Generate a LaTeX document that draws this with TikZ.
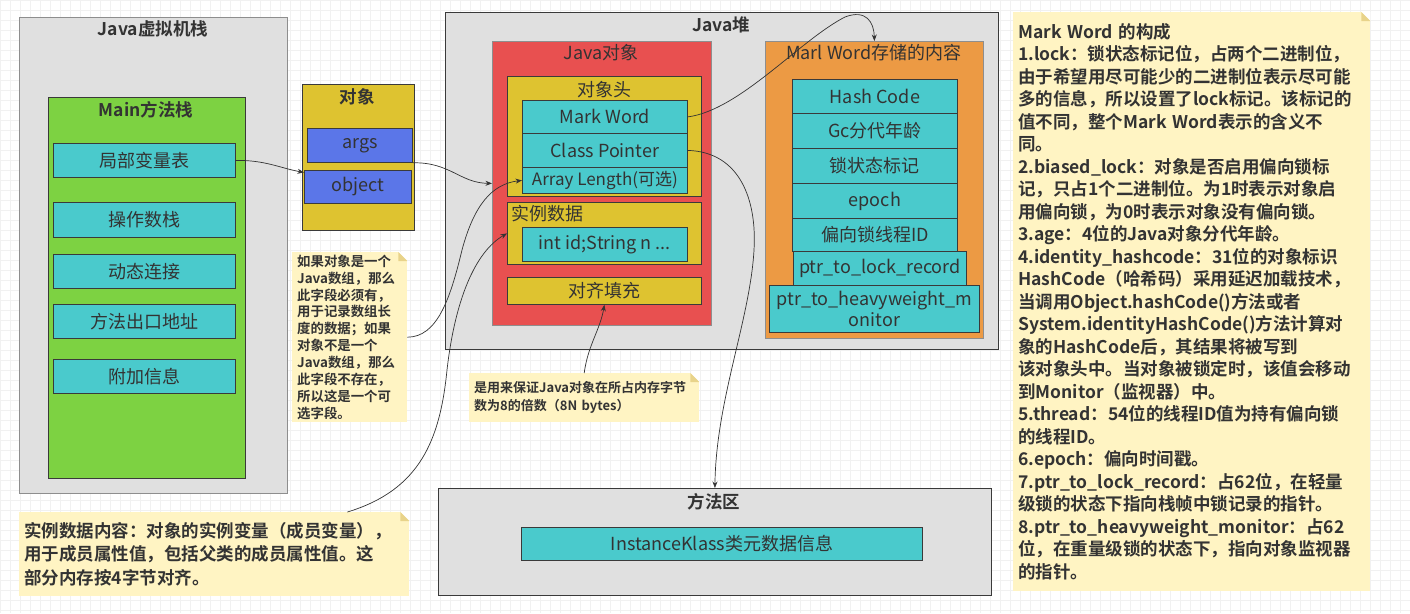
\documentclass[tikz,border=0pt]{standalone}
\usepackage{fontspec}
\setmainfont{Noto Sans CJK SC}[BoldFont={Noto Sans CJK SC Bold}]
\usetikzlibrary{arrows.meta}
\definecolor{ink}{HTML}{333333}
\definecolor{edge}{HTML}{3A3A3A}
\definecolor{edgelight}{HTML}{8E8E8E}
\definecolor{gridc}{HTML}{F1F1F1}
\definecolor{areagray}{HTML}{E0E0E0}
\definecolor{stackgreen}{HTML}{7DD242}
\definecolor{slotcyan}{HTML}{4ACACC}
\definecolor{objyellow}{HTML}{DEC330}
\definecolor{refblue}{HTML}{5B76E8}
\definecolor{objred}{HTML}{E85050}
\definecolor{markorange}{HTML}{EC9A44}
\definecolor{notefill}{HTML}{FFF4C3}
\definecolor{notefold}{HTML}{E8D38A}

\begin{document}
\begin{tikzpicture}[x=1pt, y=-1pt,
  sz/.style 2 args={minimum width=#1pt, minimum height=#2pt},
  box/.style={draw=edge, line width=0.8pt, anchor=north west, inner sep=0pt,
    text=ink, font=\fontsize{18}{21}\selectfont},
  area/.style={box, fill=areagray},
  slot/.style={box, fill=slotcyan},
  head/.style={text=ink, inner sep=0pt, font=\fontsize{17.5}{20}\selectfont\bfseries},
  plaintitle/.style={text=ink, inner sep=0pt, font=\fontsize{18}{21}\selectfont},
  note/.style={fill=notefill, anchor=north west, inner xsep=5pt, inner ysep=0pt,
    text=ink, align=left},
  conn/.style={draw=ink, line width=0.7pt, -{Stealth[length=6.5pt, width=5pt]}}]
  \useasboundingbox (0,0) rectangle (1410,613);
  \draw[gridc, line width=0.5pt, step=10pt] (0,0) grid (1410,613);

  \node[area, draw=edgelight, sz={268}{476}] (jvms) at (19,17) {};
  \node[head] (jvmst) at (153,29) {Java虚拟机栈};
  \node[box, fill=stackgreen, sz={197}{381}] (mainst) at (48,97) {};
  \node[head] (mainstt) at (146,110) {Main方法栈};
  \node[slot, sz={182}{34}] (lvt) at (53,143) {局部变量表};
  \node[slot, sz={182}{35}] (opst) at (53,202) {操作数栈};
  \node[slot, sz={182}{34}] (dyn) at (53,254) {动态连接};
  \node[slot, sz={182}{34}] (ret) at (53,304) {方法出口地址};
  \node[slot, sz={182}{34}] (extra) at (53,359) {附加信息};

  \node[box, fill=objyellow, sz={112}{146}] (objbox) at (302,84) {};
  \node[head] (objboxt) at (357,97) {对象};
  \node[box, fill=refblue, sz={105}{34}] (args) at (307,128) {args};
  \node[box, fill=refblue, sz={107}{33}] (obj) at (304,170) {object};

  \node[area, sz={553}{337}] (heap) at (445,12) {};
  \node[head] (heapt) at (721,25) {Java堆};
  \node[box, draw=edgelight, fill=objred, sz={219}{284}] (jobj) at (492,41) {};
  \node[plaintitle] (jobjt) at (601,53) {Java对象};
  \node[box, fill=objyellow, sz={194}{120}] (hdr) at (507,76) {};
  \node[plaintitle] (hdrt) at (604,90) {对象头};
  \node[slot, sz={165}{33}] (mw) at (522,100) {Mark Word};
  \node[slot, sz={165}{34}] (cp) at (522,133) {Class Pointer};
  \node[slot, sz={165}{26}, font=\fontsize{17}{20}\selectfont] (al) at (522,167) {Array Length(可选)};
  \node[box, fill=objyellow, sz={194}{62}] (inst) at (507,202) {};
  \node[plaintitle, anchor=west] (instt) at (511,214) {实例数据};
  \node[slot, sz={165}{34}] (ival) at (522,227) {int id;String n ...};
  \node[box, fill=objyellow, sz={194}{27}] (pad) at (507,277) {对齐填充};

  \node[box, draw=edgelight, fill=markorange, sz={218}{297}] (marl) at (765,41) {};
  \node[plaintitle] (marlt) at (874,53) {Marl Word存储的内容};
  \node[slot, sz={165}{34}] (hc) at (792,79) {Hash Code};
  \node[slot, sz={165}{35}] (gc) at (792,113) {Gc分代年龄};
  \node[slot, sz={165}{35}] (lk) at (792,148) {锁状态标记};
  \node[slot, sz={165}{35}] (ep) at (792,183) {epoch};
  \node[slot, sz={165}{33}] (bt) at (792,218) {偏向锁线程ID};
  \node[slot, sz={173}{34}] (plr) at (793,251) {ptr\_to\_lock\_record};
  \node[slot, sz={210}{47}, align=center, font=\fontsize{18}{21}\selectfont] (phm) at (769,285)
    {ptr\_to\_heavyweight\_m\\onitor};

  \node[area, sz={553}{107}] (ma) at (438,488) {};
  \node[head] (mat) at (714,502) {方法区};
  \node[slot, sz={401}{33}] (ik) at (521,527) {InstanceKlass类元数据信息};

  \node[note, sz={115}{170}, text width=105pt, font=\fontsize{13.4}{16.9}\selectfont\bfseries] (n1) at (292,252)
    {如果对象是一个\\Java数组，那么\\此字段必须有，\\用于记录数组长\\度的数据；如果\\对象不是一个\\Java数组，那么\\此字段不存在，\\所以这是一个可\\选字段。};
  \node[note, sz={230}{49}, text width=220pt, font=\fontsize{13}{18}\selectfont\bfseries] (n2) at (469,373)
    {是用来保证Java对象在所占内存字节\\数为8的倍数（8N bytes）};
  \node[note, sz={390}{84}, text width=380pt, font=\fontsize{17.5}{23.4}\selectfont\bfseries] (n3) at (19,512)
    {实例数据内容：对象的实例变量（成员变量），\\用于成员属性值，包括父类的成员属性值。这\\部分内存按4字节对齐。};
  \node[note, sz={357}{579}, text width=347pt, font=\fontsize{17.5}{22.5}\selectfont\bfseries] (n4) at (1013,12)
    {Mark Word 的构成\\
     1.lock：锁状态标记位，占两个二进制位，\\
     由于希望用尽可能少的二进制位表示尽可能\\
     多的信息，所以设置了lock标记。该标记的\\
     值不同，整个Mark Word表示的含义不\\
     同。\\
     2.biased\_lock：对象是否启用偏向锁标\\
     记，只占1个二进制位。为1时表示对象启\\
     用偏向锁，为0时表示对象没有偏向锁。\\
     3.age：4位的Java对象分代年龄。\\
     4.identity\_hashcode：31位的对象标识\\
     HashCode（哈希码）采用延迟加载技术，\\
     当调用Object.hashCode()方法或者\\
     System.identityHashCode()方法计算对\\
     象的HashCode后，其结果将被写到\\
     该对象头中。当对象被锁定时，该值会移动\\
     到Monitor（监视器）中。\\
     5.thread：54位的线程ID值为持有偏向锁\\
     的线程ID。\\
     6.epoch：偏向时间戳。\\
     7.ptr\_to\_lock\_record：占62位，在轻量\\
     级锁的状态下指向栈帧中锁记录的指针。\\
     8.ptr\_to\_heavyweight\_monitor：占62\\
     位，在重量级锁的状态下，指向对象监视器\\
     的指针。};
  \foreach \n in {n1,n2,n3,n4}
  {
    \fill[white] ([xshift=-9pt]\n.north east) -- (\n.north east) -- ([yshift=-9pt]\n.north east) -- cycle;
    \fill[notefold] ([xshift=-9pt]\n.north east) -- ([xshift=-9pt,yshift=-9pt]\n.north east)
      -- ([yshift=-9pt]\n.north east) -- cycle;
  }

  \draw[conn] (lvt.east) .. controls (265,160) and (280,168) .. (obj.165);
  \draw[conn] (args.south east) .. controls (450,162) and (460,183) .. (jobj.west);
  \draw[conn] (mw.east) .. controls (740,110) and (800,40) .. (845,17)
    .. controls (866,9) and (874,22) .. (marl.north);
  \draw[conn] (cp.east) .. controls (740,152) and (757,200) .. (754,250)
    .. controls (750,320) and (716,400) .. (ma.north);
  \draw[conn] (n1.east) .. controls (437,337) and (450,300) .. (462,250)
    .. controls (474,205) and (492,184) .. (al.west);
  \draw[conn] ([xshift=-62pt]n3.north east) .. controls (420,490) and (440,440) .. (447,370)
    .. controls (455,300) and (475,252) .. (inst.west);
  \draw[conn] (n2.north) .. controls (588,345) and (600,330) .. (pad.south);
\end{tikzpicture}
\end{document}
